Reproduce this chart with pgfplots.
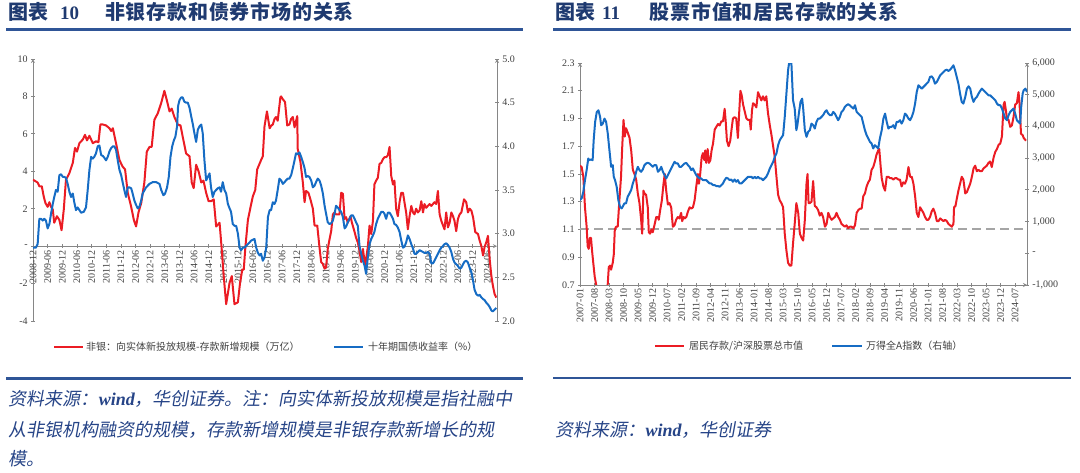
\documentclass[border=0pt]{standalone}
\usepackage{fontspec}
\setmainfont{Liberation Serif}
\newfontfamily\cjk{Noto Sans CJK SC}
\newfontfamily\cjkls{Noto Sans CJK SC}[LetterSpace=4]
\newfontfamily\cjkslant{Noto Sans CJK SC}[FakeSlant=0.18]
\usepackage{pgfplots}
\pgfplotsset{compat=1.18}
\definecolor{titleblue}{RGB}{31,58,112}
\definecolor{lineblue}{RGB}{47,85,151}
\definecolor{noteblue}{RGB}{38,68,135}
\definecolor{sred}{RGB}{235,28,36}
\definecolor{sblue}{RGB}{22,108,196}
\definecolor{axgray}{RGB}{134,134,134}
\definecolor{tkgray}{RGB}{64,64,64}
\definecolor{dashgray}{RGB}{165,165,165}
\pgfplotsset{
  base/.style={scale only axis, clip=true, tick align=outside, major tick length=3.5pt,
    axis line style={axgray, line width=0.8pt, -}, tick style={axgray, line width=0.8pt},
    ticklabel style={font=\fontsize{10}{12}\selectfont, text=tkgray},
    xticklabel style={rotate=90, anchor=east, inner sep=2pt},
    scaled y ticks=false, hide obscured x ticks=false, hide obscured y ticks=false},
  ser/.style={line width=2pt, line join=round, mark=none}
}
\begin{document}
\begin{tikzpicture}
\path[use as bounding box] (0pt,0pt) rectangle (1080pt,-473pt);
% ---------- titles ----------
\node[anchor=base west, inner sep=0, text=titleblue, font=\cjk\bfseries\fontsize{20}{24}\selectfont] at (8.6pt,-20pt) {图表};
\node[anchor=base west, inner sep=0, text=titleblue, font=\bfseries\fontsize{19}{24}\selectfont] at (60pt,-20pt) {10};
\node[anchor=base west, inner sep=0, text=titleblue, font=\cjkls\bfseries\fontsize{20}{24}\selectfont] at (105pt,-20pt) {非银存款和债券市场的关系};
\node[anchor=base west, inner sep=0, text=titleblue, font=\cjk\bfseries\fontsize{20}{24}\selectfont] at (555.5pt,-20pt) {图表};
\node[anchor=base west, inner sep=0, text=titleblue, font=\bfseries\fontsize{19}{24}\selectfont] at (602pt,-20pt) {11};
\node[anchor=base west, inner sep=0, text=titleblue, font=\cjkls\bfseries\fontsize{20}{24}\selectfont] at (649.5pt,-20pt) {股票市值和居民存款的关系};
\draw[lineblue, line width=2.5pt] (6.2pt,-29.6pt) -- (523pt,-29.6pt);
\draw[lineblue, line width=2.5pt] (553pt,-29.6pt) -- (1071pt,-29.6pt);
\draw[lineblue, line width=2.5pt] (6.2pt,-378.5pt) -- (523pt,-378.5pt);
\draw[lineblue, line width=2.5pt] (553pt,-378pt) -- (1071pt,-378pt);

% ---------- panel 1 ----------
\begin{axis}[base, at={(33pt,-321pt)}, anchor=south west, width=464pt, height=262pt,
  xmin=0, xmax=190, ymin=-4, ymax=10, axis x line=middle, axis y line=left,
  xtick={0,6,...,186},
  xticklabels={2008-12,2009-06,2009-12,2010-06,2010-12,2011-06,2011-12,2012-06,2012-12,2013-06,2013-12,2014-06,2014-12,2015-06,2015-12,2016-06,2016-12,2017-06,2017-12,2018-06,2018-12,2019-06,2019-12,2020-06,2020-12,2021-06,2021-12,2022-06,2022-12,2023-06,2023-12,2024-06},
  ytick={-4,-2,0,2,4,6,8,10}, yticklabels={-4,-2,-,2,4,6,8,10}]
\addplot[ser, sred] coordinates {
(0,3.55) (1.9,3.4) (2.6,3.2) (3.6,3.2) (4.4,2.65) (5.1,2.3) (6.0,2.1) (6.7,2.35) (7.4,2.1) (8.1,1.95)
(8.7,1.25) (9.8,1.6) (10.8,1.4) (11.7,0.85) (12.6,1.95) (13.5,3.55) (14.9,3.9) (16.3,4.45) (17.2,5.25)
(18.0,5.05) (19.0,5.5) (20.4,5.7) (21.3,5.95) (22.1,5.65) (23.1,5.9) (24.5,5.5) (25.8,5.6) (26.8,5.55)
(27.6,6.5) (28.6,6.5) (29.9,6.45) (31.3,6.3) (32.0,6.15) (32.7,6.3) (34.0,5.5) (35.4,4.6) (36.7,4.25)
(37.7,4.1) (38.8,2.85) (40.2,2.1) (41.3,1.4) (42.2,1.05) (43.2,1.8) (44.3,2.3) (45.6,3.4) (46.6,5.05)
(47.7,5.3) (48.6,5.3) (49.7,6.75) (51.1,7.1) (52.5,7.65) (53.8,8.3) (54.8,7.8) (55.9,7.2) (56.8,7.35)
(57.9,6.9) (59.3,6.5) (60.4,6.45) (61.3,5.85) (62.7,4.95) (64.1,4.8) (65.0,3.4) (65.8,3.1) (66.8,4.35)
(67.8,4.0) (68.9,3.4) (69.8,3.5) (70.9,2.85) (71.9,2.4) (72.9,2.4) (74.0,2.5) (75.0,1.05) (76.4,1.25)
(77.3,-0.2) (78.1,-1.6) (79.1,-3.1) (80.5,-1.95) (81.4,-1.6) (82.5,-3.1) (83.9,-3.0) (84.8,-1.95)
(85.7,-1.25) (86.3,-1.25) (87.0,0) (88.0,1.4) (89.1,2.1) (90.0,2.65) (91.0,3.0) (91.8,4.1) (93.4,4.6)
(94.1,4.8) (94.8,6.4) (95.8,7.2) (96.9,6.3)
(97.5,6.43) (98.2,6.5) (98.9,6.8) (99.5,6.9) (100.2,6.7) (101.3,7.95) (101.6,8.0) (102.3,7.85) (103.2,7.7)
(104.1,6.45) (105.0,6.5) (105.7,6.8) (106.4,6.9) (107.1,6.35) (108.2,6.95) (108.4,5.2) (109.5,4.5)
(110.5,3.4) (111.2,2.35) (111.8,2.95) (112.8,2.85) (113.6,2.5) (114.6,2.0) (115.3,1.1) (116.4,1.1)
(117.3,-0.05) (118.0,-0.85) (118.7,-0.95) (119.4,-1.2) (120.0,-1.15) (120.7,-0.15) (121.4,0.35)
(122.1,0.8) (122.8,1.7) (123.5,1.8) (124.1,1.7) (125.5,1.7) (126.2,2.85) (126.9,2.8) (127.6,1.45)
(128.2,1.55) (128.9,1.25) (130.0,1.6) (130.6,1.25) (131.7,0.75) (132.3,0.45) (133.0,0.2) (133.7,-0.25)
(134.4,-0.85) (135.1,-0.15) (136.0,-1.05) (137.1,-0.05) (137.8,1.1) (138.5,0.65) (139.2,1.35)
(139.8,3.3) (140.5,3.5) (141.2,3.65) (141.9,4.4) (142.6,4.45) (143.3,4.65) (143.9,4.75) (144.6,4.75)
(145.3,4.85) (146.0,5.3) (146.7,3.75) (147.4,3.3) (148.0,3.5) (148.7,2.0) (149.4,1.6) (150.1,2.35)
(150.8,2.85) (151.5,2.85) (152.1,2.35) (152.8,1.8) (153.5,0.9) (154.2,1.6) (154.9,2.15) (155.6,1.8)
(156.2,1.7) (156.9,2.0) (157.6,1.8) (158.3,1.9) (159.0,2.4) (159.7,1.8) (160.3,2.25) (161.0,2.05)
(161.7,2.15) (162.4,2.25) (163.1,2.15) (164.4,2.35) (165.1,2.25) (165.8,2.95) (166.5,1.7) (167.2,1.35)
(168.5,0.9) (169.2,1.8) (169.9,1.0) (170.6,1.25) (171.3,1.8) (172.0,1.6) (172.6,1.35) (173.3,0.8)
(174.0,1.45) (174.7,1.7) (175.4,1.8) (176.5,2.5) (177.4,2.35) (178.1,1.8) (178.8,2.0) (179.5,1.9)
(180.2,1.55) (181.1,0.75) (182.2,0.65) (182.9,0.3) (183.6,0) (184.3,-0.5) (184.9,-0.05) (185.6,0.2)
(186.3,0.55) (187.0,-0.7) (187.7,-1.6) (188.3,-2.1) (189.0,-2.55) (189.7,-2.75)
};
\end{axis}
\begin{axis}[base, at={(33pt,-321pt)}, anchor=south west, width=464pt, height=262pt,
  xmin=0, xmax=190, ymin=2, ymax=5, axis y line=right, axis x line=none, xtick=\empty,
  ytick={2,2.5,3,3.5,4,4.5,5}, yticklabels={2.0,2.5,3.0,3.5,4.0,4.5,5.0},
  yticklabel style={anchor=west}]
\addplot[ser, sblue] coordinates {
(0,2.84) (1.2,2.84) (1.9,2.88) (2.6,3.17) (3.3,3.17) (4.0,3.15) (4.6,3.17) (5.3,3.15) (6.0,3.06) (6.7,3.11)
(7.4,3.23) (8.1,3.34) (8.7,3.42) (9.4,3.5) (10.1,3.48) (10.8,3.67) (11.5,3.68) (12.2,3.65) (12.8,3.65)
(13.5,3.64) (14.2,3.57) (14.9,3.48) (15.6,3.42) (16.3,3.46) (16.9,3.36) (17.6,3.27) (18.3,3.3) (19.0,3.27)
(19.7,3.24) (20.8,3.25) (21.7,3.3) (22.4,3.5) (23.1,3.73) (23.8,3.88) (24.5,3.86) (25.1,3.88) (25.8,3.92)
(26.5,4.0) (27.2,4.01) (27.9,3.9) (28.6,3.89) (29.2,3.87) (29.9,3.84) (30.6,3.88) (31.3,3.94) (32.0,3.98)
(32.7,4.0) (33.3,4.0) (34.0,3.96) (34.7,3.84) (35.4,3.73) (36.1,3.67) (36.7,3.59) (37.4,3.5) (38.1,3.42)
(38.8,3.53) (39.5,3.53) (40.2,3.52) (40.8,3.46) (41.5,3.38) (42.2,3.33) (42.9,3.29) (43.6,3.31) (44.3,3.38)
(44.9,3.46) (46.3,3.53) (47.7,3.57) (49.0,3.59) (50.4,3.59) (51.8,3.57) (52.5,3.5) (53.4,3.44) (54.1,3.46)
(54.9,3.53) (55.6,3.65) (56.3,3.88) (57.0,4.0) (57.7,4.07) (58.3,4.11) (59.0,4.23) (59.4,4.46) (60.0,4.53)
(60.7,4.56) (61.3,4.56) (62.0,4.51) (62.7,4.5) (63.4,4.5) (64.1,4.44) (64.8,4.34) (65.4,4.26) (66.1,4.15)
(66.8,4.05) (67.5,4.19) (68.2,4.23) (68.9,4.25) (69.5,4.15) (70.2,3.84) (70.9,3.61) (71.6,3.65) (72.3,3.69)
(72.9,3.53) (73.6,3.42) (74.3,3.48) (75.0,3.5) (75.7,3.52) (76.4,3.53) (77.0,3.48) (77.7,3.59) (78.4,3.5)
(79.1,3.46) (79.8,3.34) (80.5,3.29) (81.1,3.25) (81.8,3.11) (82.5,3.09) (83.2,3.09) (83.9,3.0) (84.6,2.84)
(85.2,2.81) (85.9,2.84) (86.6,2.84) (87.3,2.86) (88.0,2.88) (88.7,2.9) (89.3,2.92) (90.0,2.93) (90.7,2.94)
(91.4,2.84) (92.1,2.78) (92.8,2.75) (93.4,2.77) (94.1,2.69) (94.8,2.73) (95.5,2.84) (96.2,3.19) (96.9,3.27)
(97.5,3.27) (98.2,3.36) (98.9,3.34) (99.5,3.38) (100.2,3.5) (100.9,3.63) (101.6,3.61) (102.3,3.57)
(103.0,3.59) (103.6,3.61) (104.3,3.63) (105.0,3.63) (105.7,3.67) (106.4,3.75) (107.1,3.84) (107.7,3.92)
(108.4,3.91) (109.1,3.93) (109.8,3.88) (110.5,3.82) (111.2,3.75) (111.8,3.65) (112.5,3.66) (113.2,3.65)
(113.9,3.61) (114.6,3.53) (115.3,3.55) (115.9,3.59) (116.6,3.63) (117.3,3.61) (118.0,3.55) (118.7,3.46)
(119.4,3.32) (120.0,3.23) (120.7,3.13) (121.4,3.11) (122.1,3.12) (122.8,3.15) (123.5,3.23) (124.1,3.32)
(124.8,3.3) (125.5,3.27) (126.2,3.25) (126.9,3.19) (127.6,3.06) (128.2,3.08) (128.9,3.13) (129.6,3.17)
(130.3,3.21) (131.0,3.21) (131.7,3.17) (132.3,3.13) (133.0,3.09) (133.7,2.86) (134.4,2.77) (135.1,2.69)
(135.8,2.63) (136.4,2.54) (137.1,2.73) (137.8,2.88) (138.5,2.94) (139.2,2.98) (139.8,3.02) (140.5,3.11)
(141.2,3.17) (141.9,3.21) (142.6,3.25) (143.3,3.25) (143.9,3.23) (144.6,3.17) (145.3,3.24) (146.0,3.24)
(146.7,3.21) (147.4,3.17) (148.0,3.11) (148.7,3.1) (149.4,3.07) (150.1,3.02) (150.8,2.92) (151.5,2.84)
(152.1,2.85) (152.8,2.9) (153.5,2.98) (154.2,2.94) (154.9,2.88) (155.6,2.83) (156.2,2.77) (156.9,2.77)
(157.6,2.79) (158.3,2.81) (159.0,2.80) (159.7,2.79) (160.3,2.78) (161.0,2.78) (161.7,2.79) (162.4,2.77)
(163.1,2.66) (163.8,2.66) (164.4,2.69) (165.1,2.73) (165.8,2.77) (166.5,2.81) (167.2,2.84) (167.9,2.86)
(168.5,2.88) (169.2,2.89) (169.9,2.87) (170.6,2.84) (171.3,2.79) (172.0,2.71) (172.6,2.67) (173.3,2.65)
(174.0,2.63) (174.7,2.6) (175.4,2.61) (176.1,2.65) (176.7,2.68) (177.4,2.69) (178.1,2.67) (178.8,2.61)
(179.5,2.56) (180.2,2.46) (180.8,2.36) (181.5,2.31) (182.2,2.29) (182.9,2.30) (183.6,2.27) (184.3,2.25)
(184.9,2.24) (185.6,2.21) (186.3,2.19) (187.0,2.16) (187.7,2.12) (188.3,2.11) (189.0,2.13) (189.7,2.15)
};
\end{axis}

% ---------- panel 2 ----------
\begin{axis}[base, at={(580pt,-285pt)}, anchor=south west, width=447pt, height=222pt,
  xmin=0, xmax=215.7, ymin=0.7, ymax=2.3, axis x line=bottom, axis y line=left,
  xtick={0,7,...,210},
  xticklabels={2007-01,2007-08,2008-03,2008-10,2009-05,2009-12,2010-07,2011-02,2011-09,2012-04,2012-11,2013-06,2014-01,2014-08,2015-03,2015-10,2016-05,2016-12,2017-07,2018-02,2018-09,2019-04,2019-11,2020-06,2021-01,2021-08,2022-03,2022-10,2023-05,2023-12,2024-07},
  ytick={0.7,0.9,1.1,1.3,1.5,1.7,1.9,2.1,2.3}, yticklabels={0.7,0.9,1.1,1.3,1.5,1.7,1.9,2.1,2.3}]
\addplot[dashgray, line width=2pt, dash pattern=on 9pt off 5pt] coordinates {(0,1.1) (215.7,1.1)};
\addplot[ser, sred] coordinates {
(0,1.56) (0.8,1.55) (1.6,1.48) (2.4,1.26) (3.2,1.12) (3.7,0.98) (4.2,0.96) (4.8,1.04) (5.3,1.04) (5.8,0.95)
(6.4,0.86) (7.1,0.76) (7.7,0.71) (8.5,0.65) (10,0.6) (12,0.6) (13.0,0.66) (13.4,0.71) (13.9,0.83) (14.5,0.84)
(15.0,0.81) (15.8,0.86) (16.3,0.92) (16.8,1.1) (17.4,1.12) (18.2,1.12) (19.0,1.31) (19.8,1.48) (20.3,1.67)
(21.0,1.89) (21.6,1.77) (22.2,1.83) (23.0,1.80) (23.9,1.76) (24.7,1.67) (25.5,1.53) (26.3,1.5) (27.1,1.46)
(27.9,1.36) (28.7,1.29) (29.5,1.17) (30.0,1.07) (30.6,1.38) (31.1,1.36) (31.9,1.35) (32.7,1.26) (33.2,1.08)
(33.8,1.07) (34.5,1.1) (35.1,1.08) (35.9,1.13) (36.8,1.19) (37.6,1.19) (38.0,1.17) (38.7,1.24) (39.5,1.31)
(40.3,1.43) (40.9,1.5) (41.6,1.38) (42.4,1.28) (43.2,1.29) (44.0,1.26) (44.8,1.12) (45.6,1.13) (46.4,1.17)
(47.2,1.19) (48.0,1.18) (48.8,1.22) (49.3,1.16) (50.0,1.19) (50.6,1.18) (51.3,1.19) (52.1,1.23) (52.9,1.26)
(53.7,1.25) (54.5,1.26) (55.3,1.31) (56.1,1.41) (56.9,1.5) (57.4,1.43) (58.0,1.5) (58.7,1.62) (59.3,1.65)
(60.0,1.6) (60.4,1.67) (60.9,1.58) (61.6,1.68) (62.2,1.58) (62.9,1.6) (63.5,1.67) (64.2,1.72) (65.0,1.82)
(65.8,1.84) (66.6,1.86) (67.4,1.85) (68.2,1.88) (69.0,1.88) (69.8,1.97) (70.3,1.88) (70.9,1.74) (71.7,1.70)
(72.5,1.74) (73.2,1.83) (73.8,1.9) (74.6,1.91) (75.4,1.9) (76.2,1.76) (76.7,1.91) (77.4,2.10) (78.0,2.07)
(78.7,2.0) (79.5,1.95) (80.3,1.9) (81.1,1.89) (81.9,1.89) (82.4,1.82) (83.0,1.96) (83.5,2.01) (84.3,2.0)
(85.1,1.98) (85.9,2.09) (86.7,2.06) (87.5,2.03) (88.3,2.06) (89.1,2.03) (89.9,2.06) (90.7,1.94) (91.6,1.85)
(92.4,1.78) (93.2,1.7) (94.0,1.62) (94.8,1.48) (95.6,1.35) (96.4,1.31) (97.2,1.29) (98.0,1.26) (98.8,1.07)
(99.6,0.95) (100.4,0.86) (101.2,0.84) (102.0,0.84) (102.8,1.0) (103.6,1.14) (104.4,1.29) (105.3,1.22)
(106.1,1.07) (106.9,1.04) (107.7,1.02) (108.5,1.17) (109.3,1.43) (109.8,1.5) (110.3,1.29) (110.9,1.29)
(111.7,1.30) (112.5,1.45) (113.3,1.27) (114.1,1.26) (114.9,1.24) (115.7,1.2) (116.5,1.22) (117.3,1.19)
(118.2,1.12) (119.0,1.14) (119.8,1.22) (120.6,1.19) (121.4,1.17) (122.2,1.18) (123.0,1.19) (123.8,1.22)
(124.6,1.19) (125.4,1.17) (126.2,1.14) (127.0,1.13) (127.8,1.12) (128.6,1.13) (129.4,1.11) (130.2,1.12)
(131.0,1.12) (131.9,1.11) (132.7,1.13) (133.5,1.22) (134.3,1.24) (135.1,1.25) (135.9,1.25) (136.7,1.34)
(137.5,1.36) (138.3,1.41) (139.1,1.44) (139.9,1.46) (140.7,1.53) (141.5,1.55) (142.3,1.59) (143.1,1.64)
(143.9,1.67) (144.4,1.68) (145.1,1.55) (145.6,1.47) (146.4,1.41) (147.2,1.38) (148.0,1.48) (148.8,1.48)
(149.6,1.47) (150.4,1.47) (151.2,1.46) (152.0,1.47) (152.8,1.47) (153.6,1.46) (154.4,1.46) (155.2,1.41)
(156.0,1.44) (156.8,1.43) (157.6,1.46) (158.5,1.55) (159.3,1.48) (160.1,1.48) (160.9,1.43) (161.7,1.34)
(162.5,1.22) (163.3,1.19) (164.1,1.26) (164.9,1.24) (165.7,1.22) (166.5,1.19) (167.3,1.17) (168.1,1.17)
(168.9,1.19) (169.7,1.23) (170.5,1.25) (171.3,1.22) (172.2,1.16) (173.0,1.16) (173.8,1.18) (174.6,1.17)
(175.4,1.16) (176.2,1.17) (177.0,1.16) (177.8,1.14) (178.6,1.13) (179.4,1.12) (180.2,1.14) (180.5,1.26)
(181.2,1.27) (181.8,1.32) (182.6,1.38) (183.4,1.43) (184.2,1.48) (185.0,1.46) (185.9,1.36) (186.7,1.37)
(187.5,1.4) (188.3,1.43) (189.1,1.48) (189.9,1.54) (190.7,1.56) (191.5,1.52) (192.3,1.53) (193.1,1.52)
(193.9,1.52) (194.7,1.54) (195.5,1.55) (196.3,1.56) (197.1,1.58) (197.9,1.59) (198.7,1.55) (199.6,1.62)
(200.4,1.66) (201.2,1.68) (202.0,1.71) (202.8,1.72) (203.6,1.77) (204.4,2.0) (204.9,2.02) (205.5,1.96)
(206.0,1.9) (206.8,1.89) (207.6,1.84) (208.4,1.85) (209.2,1.91) (210.0,2.0) (210.8,2.01) (211.6,2.09)
(212.1,2.01) (212.8,1.79) (213.6,1.78) (214.1,1.76) (215.2,1.74)
};
\end{axis}
\begin{axis}[base, at={(580pt,-285pt)}, anchor=south west, width=447pt, height=222pt,
  xmin=0, xmax=215.7, ymin=-1000, ymax=6000, axis y line=right, axis x line=none, xtick=\empty,
  ytick={-1000,0,1000,2000,3000,4000,5000,6000},
  yticklabels={{-1,000},{-},{1,000},{2,000},{3,000},{4,000},{5,000},{6,000}},
  yticklabel style={anchor=west}]
\addplot[ser, sblue] coordinates {
(0,1678) (0.8,1730) (1.6,1940) (2.4,2307) (3.2,2622) (4.0,2990) (4.5,2937) (5.3,2958) (6.1,2937) (6.6,3566)
(7.3,4143) (8.1,4458) (8.9,4510) (9.7,4300) (10.2,4038) (11.0,4090) (11.8,4248) (12.6,4143) (13.4,3776)
(14.2,3252) (14.7,2937) (15.0,2727) (15.8,2779) (16.3,2412) (16.9,2307) (17.7,2098) (18.5,1678) (19.3,1468)
(20.1,1416) (20.6,1468) (21.4,1573) (22.2,1573) (23.0,1783) (23.9,1888) (24.7,1993) (25.5,2203) (26.3,2360)
(27.1,2570) (27.9,2727) (28.7,2622) (29.5,2570) (30.3,2643) (31.1,2779) (31.9,2832) (32.7,2853) (33.5,2832)
(34.3,2779) (35.1,2727) (35.9,2779) (36.8,2779) (37.6,2570) (38.4,2622) (39.2,2727) (40.0,2570) (40.8,2465)
(41.6,2360) (42.4,2465) (43.2,2570) (44.0,2675) (44.8,2779) (45.6,2884) (46.4,2832) (47.2,2832) (48.0,2727)
(48.8,2727) (49.6,2779) (50.5,2832) (51.3,2850) (52.1,2779) (52.9,2727) (53.7,2622) (54.5,2675) (55.3,2570)
(56.1,2465) (56.9,2412) (57.7,2360) (58.5,2360) (59.3,2307) (60.9,2307) (61.7,2255) (62.5,2203) (63.3,2203)
(64.2,2150) (65.0,2150) (65.8,2119) (66.6,2119) (67.4,2098) (68.2,2150) (69.0,2203) (69.8,2307) (70.6,2381)
(71.4,2360) (72.2,2307) (73.0,2328) (73.8,2255) (74.6,2328) (75.4,2255) (76.2,2307) (77.0,2203) (77.9,2203)
(78.7,2255) (79.5,2307) (80.3,2360) (81.1,2412) (82.7,2412) (83.5,2360) (84.3,2412) (85.1,2360) (85.9,2412)
(86.7,2360) (87.5,2360) (88.3,2307) (89.1,2360) (89.9,2412) (90.7,2517) (91.6,2675) (92.4,2779) (93.2,2884)
(94.0,3042) (94.8,3147) (95.6,3409) (96.4,3566) (97.2,3650) (98.0,3724) (98.8,4300) (99.6,5035) (100.4,5769)
(100.9,6000) (102.0,6000) (102.8,4825) (103.6,4563) (104.4,3881) (104.9,4038) (105.6,4405) (106.4,4773)
(107.2,4878) (107.7,4563) (108.5,3881) (109.3,3671) (110.1,3829) (110.9,3881)
(111.7,4090) (112.5,4038) (113.3,3933) (114.1,4143) (114.9,4248) (115.7,4248) (116.5,4300) (117.3,4353)
(118.2,4458) (119.0,4510) (119.8,4405) (120.6,4353) (121.4,4353) (122.2,4458) (123.0,4405) (123.8,4300)
(124.6,4196) (125.4,4300) (126.2,4458) (127.0,4510) (127.8,4615) (128.6,4668) (129.4,4699) (130.2,4668)
(131.0,4615) (131.9,4563) (132.7,4668) (133.5,4458) (134.3,4405) (135.1,4353) (135.9,4300) (136.7,4090)
(137.5,3881) (138.3,3724) (139.1,3619) (139.9,3514) (140.7,3462) (141.5,3304) (142.3,3409) (143.1,3357)
(143.9,3304) (144.7,3619) (145.6,3881) (146.4,4248) (147.2,4405) (148.0,4143) (148.8,3933) (149.6,3986)
(150.4,3986) (151.2,4038) (152.0,3933) (152.8,4143) (153.6,4143) (154.4,4196) (155.2,4090) (156.0,4196)
(156.8,4405) (157.6,4353) (158.5,4248) (159.3,4196) (160.1,4300) (160.9,4458) (161.7,4720) (162.5,5087)
(163.3,5297) (164.1,5244) (164.9,5192) (165.7,5244) (166.5,5297) (167.3,5350) (168.1,5402) (168.9,5559)
(169.7,5580) (170.5,5507) (171.3,5350) (172.2,5402) (173.0,5507) (173.8,5612) (174.6,5664) (175.4,5717)
(176.2,5769) (177.0,5790) (177.8,5748) (178.6,5790) (179.4,5853) (180.2,5927) (181.0,5769) (181.8,5559)
(182.6,5350) (183.4,5035) (184.2,4773) (185.0,4720) (185.9,4930) (186.7,5192) (187.5,5266) (188.3,5192)
(189.1,4930) (189.9,4773) (190.7,4878) (191.5,4930) (192.3,5035) (193.1,5119) (193.9,5192) (194.7,5140)
(195.5,5087) (196.3,5035) (197.1,4982) (197.9,4982) (198.7,4930) (199.6,4878) (200.4,4825) (201.2,4720)
(202.0,4668) (202.8,4668) (203.6,4563) (204.4,4405) (205.2,4248) (206.0,4196) (206.8,4353) (207.6,4458)
(208.4,4510) (209.2,4563) (210.0,4405) (210.8,4196) (211.6,4143) (212.4,4090) (212.9,4615) (213.6,5035)
(214.1,5140) (214.9,5192) (215.7,5087)
};
\end{axis}

% ---------- legends ----------
\draw[sred, line width=2pt] (54.4pt,-347pt) -- (82.6pt,-347pt);
\node[anchor=base west, inner sep=0, text=tkgray, font=\cjk\fontsize{10}{12}\selectfont] at (86pt,-350.8pt) {非银：向实体新投放规模-存款新增规模（万亿）};
\draw[sblue, line width=2pt] (334pt,-347pt) -- (363pt,-347pt);
\node[anchor=base west, inner sep=0, text=tkgray, font=\cjk\fontsize{10}{12}\selectfont] at (368pt,-350.8pt) {十年期国债收益率（\%）};
\draw[sred, line width=2pt] (655pt,-346pt) -- (684pt,-346pt);
\node[anchor=base west, inner sep=0, text=tkgray, font=\cjk\fontsize{10}{12}\selectfont] at (689pt,-349.8pt) {居民存款/沪深股票总市值};
\draw[sblue, line width=2pt] (832pt,-346pt) -- (862pt,-346pt);
\node[anchor=base west, inner sep=0, text=tkgray, font=\cjk\fontsize{10}{12}\selectfont] at (866pt,-349.8pt) {万得全A指数（右轴）};

% ---------- notes ----------
\node[anchor=base west, inner sep=0, text=noteblue, font=\cjkslant\fontsize{18}{20}\selectfont] at (8.6pt,-405.8pt) {资料来源：{\rmfamily\itshape\bfseries wind}，华创证券。注：向实体新投放规模是指社融中};
\node[anchor=base west, inner sep=0, text=noteblue, font=\cjkslant\fontsize{18}{20}\selectfont] at (8.6pt,-436.8pt) {从非银机构融资的规模，存款新增规模是非银存款新增长的规};
\node[anchor=base west, inner sep=0, text=noteblue, font=\cjkslant\fontsize{18}{20}\selectfont] at (8.6pt,-465.9pt) {模。};
\node[anchor=base west, inner sep=0, text=noteblue, font=\cjkslant\fontsize{18}{20}\selectfont] at (555.5pt,-436.8pt) {资料来源：{\rmfamily\itshape\bfseries wind}，华创证券};
\end{tikzpicture}
\end{document}
